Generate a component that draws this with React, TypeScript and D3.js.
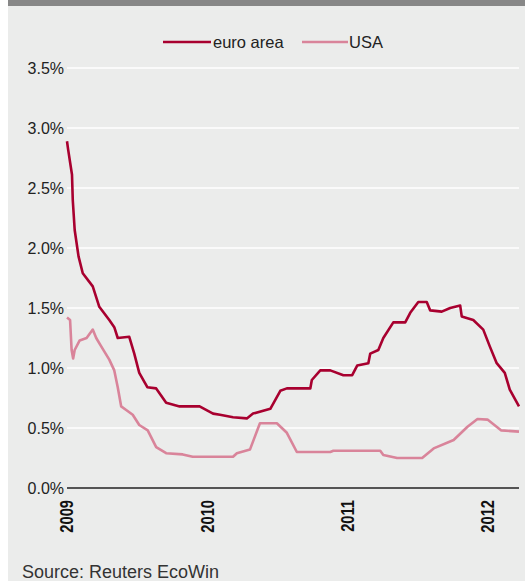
import React from "react";
import * as d3 from "d3";

const euroDates = ["2009-01-01","2009-01-04","2009-01-14","2009-01-16","2009-01-21","2009-01-31","2009-02-11","2009-03-09","2009-03-26","2009-04-21","2009-05-04","2009-05-13","2009-06-12","2009-06-25","2009-07-08","2009-07-29","2009-08-21","2009-09-16","2009-10-21","2009-12-12","2010-01-16","2010-02-03","2010-03-09","2010-04-14","2010-04-30","2010-06-14","2010-07-10","2010-07-27","2010-09-26","2010-09-30","2010-10-22","2010-11-17","2010-12-21","2011-01-13","2011-01-26","2011-02-24","2011-03-01","2011-03-22","2011-04-04","2011-04-30","2011-05-31","2011-06-13","2011-07-04","2011-07-26","2011-08-04","2011-09-03","2011-09-25","2011-10-21","2011-10-25","2011-11-24","2011-12-20","2012-01-06","2012-01-24","2012-02-14","2012-02-27","2012-03-22"];
const euroValues = [2.89,2.82,2.61,2.40,2.15,1.93,1.79,1.68,1.51,1.40,1.34,1.25,1.26,1.12,0.96,0.84,0.83,0.71,0.68,0.68,0.62,0.61,0.59,0.58,0.62,0.66,0.81,0.83,0.83,0.90,0.98,0.98,0.94,0.94,1.02,1.04,1.12,1.15,1.25,1.38,1.38,1.46,1.55,1.55,1.48,1.47,1.50,1.52,1.43,1.40,1.32,1.18,1.04,0.96,0.82,0.68];

const usaDates = ["2009-01-01","2009-01-09","2009-01-13","2009-01-17","2009-01-21","2009-02-03","2009-02-21","2009-03-09","2009-03-18","2009-03-31","2009-04-21","2009-05-04","2009-05-13","2009-05-22","2009-06-04","2009-06-21","2009-07-08","2009-07-30","2009-08-21","2009-09-16","2009-10-29","2009-11-24","2010-03-09","2010-03-19","2010-04-22","2010-05-18","2010-07-01","2010-07-27","2010-08-22","2010-11-17","2010-11-25","2011-03-27","2011-04-04","2011-05-10","2011-07-14","2011-08-13","2011-10-04","2011-11-09","2011-12-05","2011-12-31","2012-02-05","2012-03-22"];
const usaValues = [1.42,1.40,1.15,1.08,1.15,1.23,1.25,1.32,1.25,1.18,1.07,0.98,0.84,0.68,0.65,0.61,0.525,0.48,0.34,0.29,0.28,0.26,0.26,0.29,0.32,0.54,0.54,0.46,0.30,0.30,0.31,0.31,0.275,0.25,0.25,0.33,0.40,0.51,0.575,0.57,0.48,0.47];

const yTicks = [0, 0.5, 1.0, 1.5, 2.0, 2.5, 3.0, 3.5];
const xTickYears = ["2009", "2010", "2011", "2012"];
const seriesNames = ["euro area", "USA"];
const seriesColors = ["#a8002f", "#d9849a"];
const sourceText = "Source: Reuters EcoWin";

const W = 525, H = 581;
const parse = d3.timeParse("%Y-%m-%d");

export default function App() {
  const x = d3.scaleTime()
    .domain([new Date(2009, 0, 1), new Date(2012, 2, 22)])
    .range([67, 519]);
  const y = d3.scaleLinear().domain([0, 3.5]).range([488, 68]);
  const line = d3.line<[Date, number]>().x(d => x(d[0])).y(d => y(d[1])).curve(d3.curveLinear);
  const euro: [Date, number][] = euroDates.map((d, i) => [parse(d)!, euroValues[i]]);
  const usa: [Date, number][] = usaDates.map((d, i) => [parse(d)!, usaValues[i]]);
  const font = "'Liberation Sans', Arial, Helvetica, sans-serif";
  return (
    <svg width={W} height={H} style={{ position: "absolute", left: 0, top: 0 }} fontFamily={font}>
      <rect x={0} y={0} width={W} height={H} fill="#ffffff" />
      <rect x={8} y={0} width={W - 8} height={H} fill="#ebeceb" />
      <rect x={8} y={0} width={W - 8} height={6} fill="#878787" />
      {yTicks.map(t => (
        <g key={t}>
          {t > 0 && <line x1={67} x2={519} y1={y(t)} y2={y(t)} stroke="#ffffff" strokeWidth={1.5} />}
          <text x={64} y={y(t)} dy="0.4em" textAnchor="end" fontSize={16} fill="#222">
            {d3.format(".1f")(t) + "%"}
          </text>
        </g>
      ))}
      <path d={line(usa)!} fill="none" stroke={seriesColors[1]} strokeWidth={2.6} strokeLinejoin="round" />
      <path d={line(euro)!} fill="none" stroke={seriesColors[0]} strokeWidth={2.6} strokeLinejoin="round" />
      <line x1={67} x2={519} y1={y(0)} y2={y(0)} stroke="#222" strokeWidth={1.5} />
      {xTickYears.map(yr => {
        const px = x(new Date(+yr, 0, 1));
        return (
          <text key={yr} transform={`translate(${px + 6.3},500) rotate(-90) scale(1,1.2)`} textAnchor="end"
            fontSize={14.7} fontWeight="bold" fill="#111">{yr}</text>
        );
      })}
      <g>
        <line x1={163} x2={211} y1={42} y2={42} stroke={seriesColors[0]} strokeWidth={2.6} />
        <text x={213} y={42} dy="0.36em" fontSize={16.5} fill="#222">{seriesNames[0]}</text>
        <line x1={302} x2={348} y1={42} y2={42} stroke={seriesColors[1]} strokeWidth={2.6} />
        <text x={349} y={42} dy="0.36em" fontSize={16.5} fill="#222">{seriesNames[1]}</text>
      </g>
      <text x={22} y={578} fontSize={18} fill="#333">{sourceText}</text>
    </svg>
  );
}
